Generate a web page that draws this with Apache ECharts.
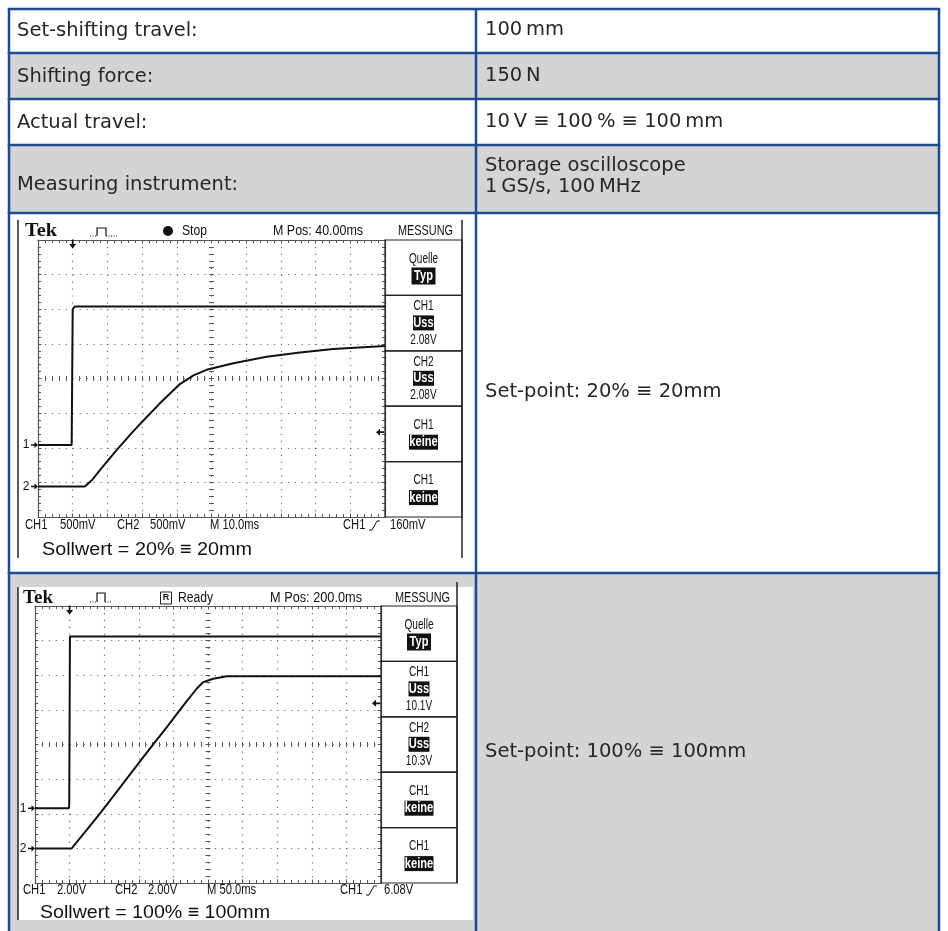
<!DOCTYPE html>
<html><head><meta charset="utf-8">
<script src="https://cdn.jsdelivr.net/npm/echarts@6/dist/echarts.min.js"></script>
<style>html,body{margin:0;padding:0;background:#fff}#c{width:948px;height:931px}</style>
</head><body><div id="c"></div>
<script>
// ================= DATA =================
const tableLabels = ["Set-shifting travel:", "Shifting force:", "Actual travel:", "Measuring instrument:"];
const tableValues = ["100\u2009mm", "150\u2009N", "10\u2009V \u2261 100\u2009% \u2261 100\u2009mm", "Storage oscilloscope", "1\u2009GS/s, 100\u2009MHz"];
const setPointLabels = ["Set-point: 20% \u2261 20mm", "Set-point: 100% \u2261 100mm"];
const sollwertLabels = ["Sollwert = 20% \u2261 20mm", "Sollwert = 100% \u2261 100mm"];
const headerStatus = ["Stop", "Ready"];
const headerPos = ["M Pos: 40.00ms", "M Pos: 200.0ms"];
const menuBoxes1 = [["Quelle", "*Typ"], ["CH1", "*Uss", "2.08V"], ["CH2", "*Uss", "2.08V"], ["CH1", "*keine"], ["CH1", "*keine"]];
const menuBoxes2 = [["Quelle", "*Typ"], ["CH1", "*Uss", "10.1V"], ["CH2", "*Uss", "10.3V"], ["CH1", "*keine"], ["CH1", "*keine"]];
const statusLine1 = ["CH1", "500mV", "CH2", "500mV", "M 10.0ms", "CH1", "160mV"];
const statusLine2 = ["CH1", "2.00V", "CH2", "2.00V", "M 50.0ms", "CH1", "6.08V"];
// traces: [time in divisions from left edge, level in divisions from bottom edge]
const scope1Ch1 = [[0, 2.08], [0.97, 2.08], [1.0, 6.0], [1.06, 6.08], [10, 6.08]];
const scope1Ch2 = [[0, 0.88], [1.35, 0.88], [1.55, 1.06], [1.79, 1.36], [2.27, 1.94], [2.75, 2.48], [3.03, 2.78], [3.52, 3.29], [4.09, 3.84], [4.48, 4.09], [4.86, 4.25], [5.63, 4.44], [6.59, 4.63], [7.55, 4.75], [8.51, 4.85], [10, 4.94]];
const scope2Ch1 = [[0, 2.16], [0.98, 2.16], [0.99, 2.3], [1.0, 2.32], [1.01, 7.12], [10, 7.12]];
const scope2Ch2 = [[0, 1.0], [1.06, 1.0], [1.49, 1.53], [1.88, 2.01], [2.36, 2.63], [2.84, 3.26], [3.32, 3.88], [3.81, 4.5], [4.29, 5.13], [4.67, 5.61], [4.86, 5.8], [5.15, 5.9], [5.54, 5.97], [10, 5.97]];
const ch1Grounds = [2.08, 2.16];
const ch2Grounds = [0.88, 1.0];
const triggerTimes = [1.0, 1.0];
const triggerLevels = [2.45, 5.19];

// ================= LAYOUT / STYLE =================
const TF = '"DejaVu Sans", "Noto Sans", sans-serif';
const SF = '"Liberation Sans", Arial, sans-serif';
const SERIF = '"Liberation Serif", "Times New Roman", serif';
const TEXT = '#262626';
const BLUE = '#1f4a8c';
const GREY = '#d3d4d6';
const INK = '#111';

const mctx = document.createElement('canvas').getContext('2d');
function fit(str, font, w) { mctx.font = font; const m = mctx.measureText(str).width; return m > 0 ? w / m : 1; }

const G = [];
function rect(x, y, w, h, fill, z, stroke, lw) {
  G.push({ type: 'rect', z: z, silent: true, shape: { x: x, y: y, width: w, height: h }, style: { fill: fill || null, stroke: stroke || null, lineWidth: lw || 1 } });
}
function line(x1, y1, x2, y2, stroke, lw, z) {
  G.push({ type: 'line', z: z, silent: true, shape: { x1: x1, y1: y1, x2: x2, y2: y2 }, style: { stroke: stroke, lineWidth: lw } });
}
function poly(points, stroke, lw, z, dash) {
  G.push({ type: 'polyline', z: z, silent: true, shape: { points: points }, style: { stroke: stroke, lineWidth: lw, fill: null, lineDash: dash || null } });
}
function text(x, y, str, font, fill, align, z, sx) {
  G.push({ type: 'text', z: z, silent: true, x: x, y: y, scaleX: sx || 1, style: { text: str, font: font, fill: fill, align: align, verticalAlign: 'middle', textAlign: align, textVerticalAlign: 'middle' } });
}
function fitText(str, x0, x1, y, size, family, weight, fill, z) {
  const font = (weight || 'normal') + ' ' + size + 'px ' + family;
  text(x0, y, str, font, fill || INK, 'left', z || 30, fit(str, font, x1 - x0));
}

// ---- table ----
const X0 = 9, X1 = 476, X2 = 939;
const RY = [9, 53, 99, 145, 213, 573, 960];
const rowFill = ['#ffffff', GREY, '#ffffff', GREY, '#ffffff', GREY];
for (let i = 0; i < 6; i++) rect(X0, RY[i], X2 - X0, RY[i + 1] - RY[i], rowFill[i], -20);
rect(18, 587, 455, 333, '#ffffff', -15);
for (let i = 0; i < 6; i++) line(X0 - 1.25, RY[i], X2 + 1.25, RY[i], BLUE, 2.5, 60);
[X0, X1, X2].forEach(function (x) { line(x, RY[0], x, 940, BLUE, 2.5, 60); });

const TFONT = '19.5px ' + TF;
const leftY = [31, 77, 123, 185];
for (let i = 0; i < 4; i++) text(17, leftY[i], tableLabels[i], TFONT, TEXT, 'left', 40);
const rightY = [30, 76, 122, 166, 187];
for (let i = 0; i < 5; i++) text(485, rightY[i], tableValues[i], TFONT, TEXT, 'left', 40);
text(485, 392, setPointLabels[0], TFONT, TEXT, 'left', 40);
text(485, 752, setPointLabels[1], TFONT, TEXT, 'left', 40);

// ---- scopes ----
const S = [
  { gx: 38, gy: 240, gw: 347, gh: 277, px1: 462, fTop: 220, fBot: 558, rTop: 220, rBot: 558, hdrY: 231, statY: 525, solY: 550, solX: [42, 252],
    tek: [25, 57], pulse: [90, 117, 97, 106, 236, 228], stat: [182, 207], pos: [273, 363], mes: [398, 453],
    statX: [25, 60, 117, 150, 210, 343, 390], edge: [[369, 530], [372, 530], [377, 521], [380, 521]],
    boxes: menuBoxes1, status: statusLine1, ch1: scope1Ch1, ch2: scope1Ch2 },
  { gx: 35, gy: 606, gw: 346, gh: 277, px1: 457, fTop: 587, fBot: 920, rTop: 582, rBot: 883, hdrY: 598, statY: 890, solY: 913, solX: [40, 270],
    tek: [23, 53], pulse: [90, 112, 97, 105, 602, 593], stat: [178, 213], pos: [270, 362], mes: [395, 450],
    statX: [23, 57, 115, 148, 207, 340, 384], edge: [[366, 895], [369, 895], [374, 886], [377, 886]],
    boxes: menuBoxes2, status: statusLine2, ch1: scope2Ch1, ch2: scope2Ch2 }
];

const grids = [], xAxes = [], yAxes = [], series = [];
const AX = '#555';
S.forEach(function (s, k) {
  // frame
  line(18, s.fTop, 18, s.fBot, '#222', 1.5, 35);
  line(s.px1, s.rTop, s.px1, s.rBot, '#222', 1.5, 35);
  // header
  fitText('Tek', s.tek[0], s.tek[1], s.hdrY, 19, SERIF, 'bold', INK, 30);
  const p = s.pulse;
  poly([[p[0], p[4]], [p[2], p[4]]], INK, 1, 30, [1, 1.5]);
  poly([[p[2], p[4]], [p[2], p[5]], [p[3], p[5]], [p[3], p[4]]], INK, 1.2, 30);
  poly([[p[3], p[4]], [p[1], p[4]]], INK, 1, 30, [1, 1.5]);
  if (k === 0) {
    G.push({ type: 'circle', z: 30, silent: true, shape: { cx: 168, cy: s.hdrY, r: 5 }, style: { fill: INK } });
  } else {
    rect(160.5, s.hdrY - 6, 11, 12, null, 30, '#222', 1);
    text(166, s.hdrY, 'R', 'bold 9px ' + SF, INK, 'center', 31);
  }
  fitText(headerStatus[k], s.stat[0], s.stat[1], s.hdrY, 14, SF, 'normal', INK, 30);
  fitText(headerPos[k], s.pos[0], s.pos[1], s.hdrY, 14, SF, 'normal', INK, 30);
  fitText('MESSUNG', s.mes[0], s.mes[1], s.hdrY, 14, SF, 'normal', INK, 30);
  // status line
  s.status.forEach(function (t, i) { text(s.statX[i], s.statY, t, '14px ' + SF, INK, 'left', 30, 0.8); });
  poly(s.edge, INK, 1, 30);
  fitText(sollwertLabels[k], s.solX[0], s.solX[1], s.solY, 19, SF, 'normal', INK, 30);
  // menu boxes
  const bx0 = s.gx + s.gw, bw = s.px1 - bx0, bh = s.gh / 5, cx = bx0 + bw / 2;
  s.boxes.forEach(function (b, i) {
    const top = s.gy + i * bh;
    rect(bx0, top, bw, bh, null, 32, '#222', 1.2);
    const offs = b.length === 2 ? [19, 36] : [11, 27.5, 44.5];
    b.forEach(function (t, j) {
      const y = top + offs[j];
      if (t.charAt(0) === '*') {
        const str = t.slice(1);
        const w = str === 'Typ' ? 24 : (str === 'Uss' ? 21 : 29);
        const h = str === 'Typ' ? 17 : 15;
        rect(cx - w / 2, y - h / 2, w, h, INK, 33);
        text(cx, y, str, 'bold 15px ' + SF, '#fff', 'center', 34, 0.74);
      } else {
        text(cx, y, t, '14px ' + SF, INK, 'center', 34, 0.72);
      }
    });
  });

  // grids: main, center-in, center-out
  const gi = grids.length;
  const xi = xAxes.length, yi = yAxes.length;
  for (let r = 0; r < 3; r++) grids.push({ left: s.gx, top: s.gy, width: s.gw, height: s.gh, show: false, containLabel: false });
  const dotY = s.gh / 40, dotX = s.gw / 50;
  const base = {
    type: 'value', axisLabel: { show: false },
    axisTick: { show: true, inside: true, length: 3.5, lineStyle: { color: AX, width: 1 } },
    minorTick: { show: true, splitNumber: 5, length: 3, lineStyle: { color: AX, width: 1 } },
    minorSplitLine: { show: false }
  };
  xAxes.push(Object.assign({}, base, { gridIndex: gi, min: 0, max: 10, interval: 1, position: 'bottom',
    axisLine: { show: true, onZero: false, lineStyle: { color: AX, width: 1.2 } },
    splitLine: { show: true, lineStyle: { color: '#6a6a6a', width: 1.2, type: [1.2, dotY - 1.2] } } }));
  xAxes.push(Object.assign({}, base, { gridIndex: gi, min: 0, max: 10, interval: 1, position: 'top',
    axisLine: { show: true, onZero: false, lineStyle: { color: AX, width: 1.2 } }, splitLine: { show: false } }));
  yAxes.push(Object.assign({}, base, { gridIndex: gi, min: 0, max: 8, interval: 1, position: 'left',
    axisLine: { show: true, onZero: false, lineStyle: { color: AX, width: 1.2 } },
    splitLine: { show: true, lineStyle: { color: '#6a6a6a', width: 1.2, type: [1.2, dotX - 1.2] } } }));
  yAxes.push(Object.assign({}, base, { gridIndex: gi, min: 0, max: 8, interval: 1, position: 'right',
    axisLine: { show: true, onZero: false, lineStyle: { color: AX, width: 1.2 } }, splitLine: { show: false } }));
  [true, false].forEach(function (inside, r) {
    const c = {
      type: 'value', gridIndex: gi + 1 + r, axisLabel: { show: false }, splitLine: { show: false },
      axisLine: { show: true, onZero: true, lineStyle: { color: AX, opacity: 0 } },
      axisTick: { show: true, inside: inside, length: 2.5, lineStyle: { color: AX, width: 1 } },
      minorTick: { show: true, splitNumber: 5, length: 2.5, lineStyle: { color: AX, width: 1 } }
    };
    xAxes.push(Object.assign({}, c, { min: -5, max: 5, interval: 1 }));
    yAxes.push(Object.assign({}, c, { min: -4, max: 4, interval: 1 }));
  });
  const mpLabel = { show: true, position: 'left', distance: 1.5, color: INK, fontSize: 12, fontFamily: SF };
  const rightArrow = 'path://M0,3 L4,3 L4,0 L8,4 L4,8 L4,5 L0,5 Z';
  series.push({
    type: 'line', xAxisIndex: xi, yAxisIndex: yi, data: s.ch1, showSymbol: false, silent: true, z: 5,
    lineStyle: { color: INK, width: 2 },
    markPoint: { silent: true, animation: false, data: [
      { coord: [0, ch1Grounds[k]], symbol: rightArrow, symbolSize: [7, 6], symbolOffset: [-3.5, 0], itemStyle: { color: INK }, label: Object.assign({}, mpLabel, { formatter: '1' }) },
      { coord: [triggerTimes[k], 8], symbol: 'path://M3,0 L5,0 L5,4 L8,4 L4,8 L0,4 L3,4 Z', symbolSize: [7, 9], symbolOffset: [0, 4], itemStyle: { color: INK }, label: { show: false } },
      { coord: [10, triggerLevels[k]], symbol: 'path://M0,4 L4,0 L4,3 L8,3 L8,5 L4,5 L4,8 Z', symbolSize: [8, 7], symbolOffset: [-5, 0], itemStyle: { color: INK }, label: { show: false } }
    ] }
  });
  series.push({
    type: 'line', xAxisIndex: xi, yAxisIndex: yi, data: s.ch2, showSymbol: false, silent: true, z: 5,
    lineStyle: { color: INK, width: 2 },
    markPoint: { silent: true, animation: false, data: [
      { coord: [0, ch2Grounds[k]], symbol: rightArrow, symbolSize: [7, 6], symbolOffset: [-3.5, 0], itemStyle: { color: INK }, label: Object.assign({}, mpLabel, { formatter: '2' }) }
    ] }
  });
});

const chart = echarts.init(document.getElementById('c'), null, { renderer: 'canvas', width: 948, height: 931 });
chart.setOption({
  backgroundColor: '#ffffff',
  animation: false,
  grid: grids,
  xAxis: xAxes,
  yAxis: yAxes,
  series: series,
  graphic: { elements: G }
});
</script>
</body></html>
